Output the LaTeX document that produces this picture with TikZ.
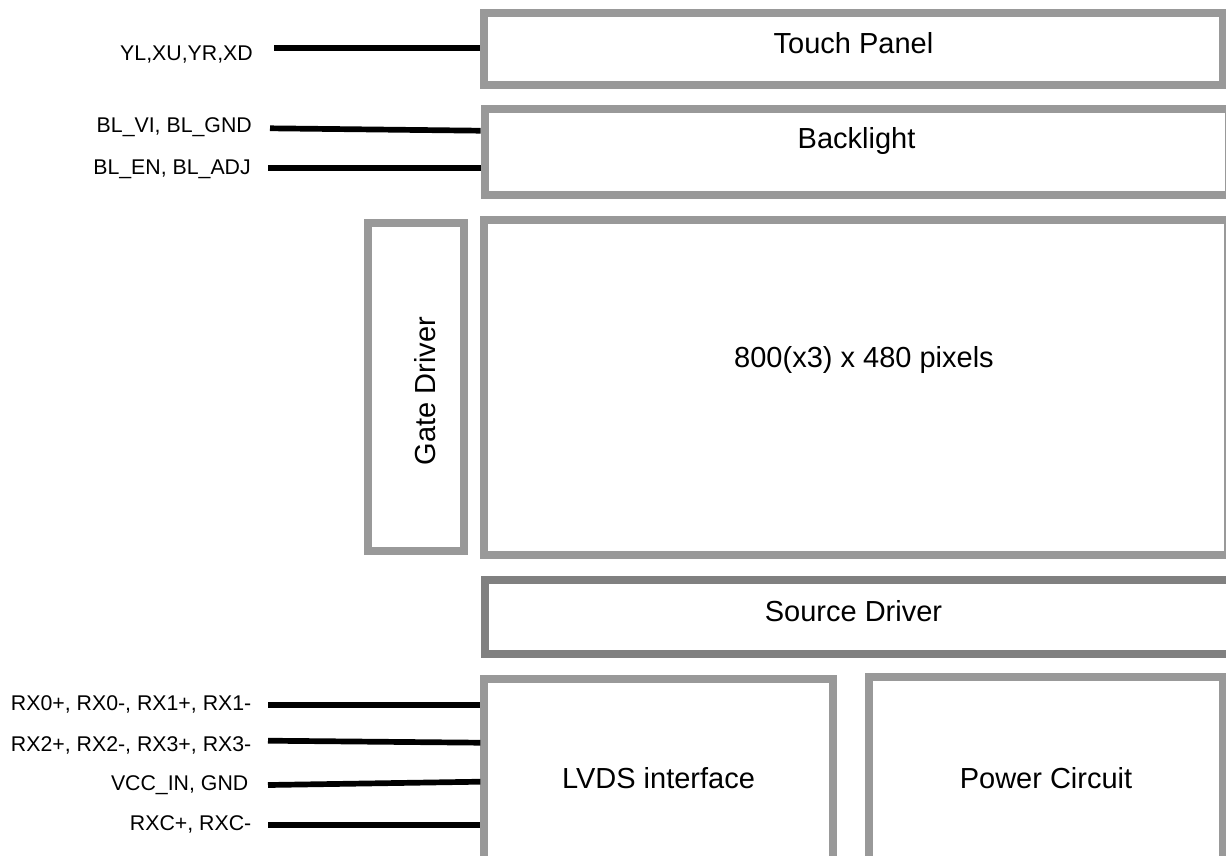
\documentclass[tikz,border=0pt]{standalone}
\usepackage{fontspec}
\setmainfont{Liberation Sans}
\definecolor{boxgray}{HTML}{999999}
\definecolor{darkboxgray}{HTML}{808080}
\begin{document}
\begin{tikzpicture}[x=1pt,y=-1pt,
  blk/.style={draw=boxgray, line width=8pt, rectangle, inner sep=0pt, fill=white},
  darkblk/.style={blk, draw=darkboxgray},
  biglbl/.style={font=\fontsize{29}{31}\selectfont, inner sep=0pt},
  pinlbl/.style={font=\fontsize{21.3}{23}\selectfont, inner sep=0pt, anchor=base east},
  wire/.style={line width=5.7pt, black}]
\useasboundingbox (0,0) rectangle (1226,855);
% boxes
\node[blk, minimum width=739.5pt, minimum height=71.7pt] (tp) at (853.25,49.15) {};
\node[blk, minimum width=744pt, minimum height=86.2pt] (bl) at (856.7,151.6) {};
\node[blk, minimum width=96pt, minimum height=328.5pt] (gd) at (415.5,387) {};
\node[blk, minimum width=744pt, minimum height=334.5pt] (px) at (856.2,387.45) {};
\node[darkblk, minimum width=747pt, minimum height=74pt] (sd) at (858.5,617) {};
\node[blk, minimum width=348.4pt, minimum height=182pt] (lv) at (658.5,770) {};
\node[blk, minimum width=354.3pt, minimum height=183.7pt] (pc) at (1045.85,769.15) {};
% box labels
\node[biglbl, anchor=base] (tpt) at (853.5,53.3) {Touch Panel};
\node[biglbl, anchor=base] (blt) at (856.5,148.3) {Backlight};
\node[biglbl, anchor=center, rotate=90] (gdt) at (425,391) {Gate Driver};
\node[biglbl, anchor=base] (pxt) at (864,367.3) {800(x3) x 480 pixels};
\node[biglbl, anchor=base] (sdt) at (853.5,621) {Source Driver};
\node[biglbl, anchor=base] (lvt) at (658.5,788) {LVDS interface};
\node[biglbl, anchor=base] (pct) at (1046,788) {Power Circuit};
% pin labels
\node[pinlbl] (p1) at (253,60) {YL,XU,YR,XD};
\node[pinlbl] (p2) at (252,132.7) {BL\_VI, BL\_GND};
\node[pinlbl] (p3) at (251,174) {BL\_EN, BL\_ADJ};
\node[pinlbl] (p4) at (251.5,710.7) {RX0+, RX0-, RX1+, RX1-};
\node[pinlbl] (p5) at (251.5,751.7) {RX2+, RX2-, RX3+, RX3-};
\node[pinlbl] (p6) at (248.5,790) {VCC\_IN, GND};
\node[pinlbl] (p7) at (251.5,830) {RXC+, RXC-};
% wire start points
\coordinate (s1) at (274,47.7);
\coordinate (s2) at (270,128.3);
\coordinate (s3) at (268,167.7);
\coordinate (s4) at (268,705);
\coordinate (s5) at (268,740.7);
\coordinate (s6) at (268,785);
\coordinate (s7) at (268,825);
% wires
\draw[wire] (s1) -- (tp.west |- s1);
\draw[wire] (s2) -- (bl.west |- 0,130.7);
\draw[wire] (s3) -- (bl.west |- s3);
\draw[wire] (s4) -- (lv.west |- s4);
\draw[wire] (s5) -- (lv.west |- 0,742.7);
\draw[wire] (s6) -- (lv.west |- 0,781.7);
\draw[wire] (s7) -- (lv.west |- s7);
\end{tikzpicture}
\end{document}
